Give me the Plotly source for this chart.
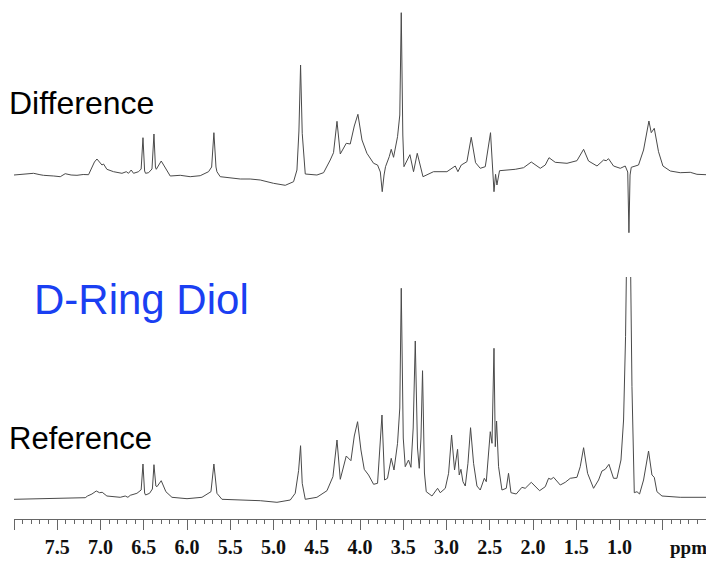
import plotly.graph_objects as go

# ---- data: (chemical shift in ppm, intensity in arbitrary units) ----
DIFFERENCE = [
    (8.000, 0), (7.900, 0.7), (7.774, 1.7), (7.700, 0.3), (7.660, -0.3), (7.540, -1.0),
    (7.465, -1.7), (7.408, 1.3), (7.340, 0), (7.272, -0.3), (7.200, 0.5), (7.138, 0.3),
    (7.099, 6.7), (7.070, 13), (7.041, 16), (7.014, 13.3), (6.983, 10), (6.965, 11),
    (6.926, 5.7), (6.849, 3.3), (6.752, 1.7), (6.702, 3.3), (6.676, 1.7), (6.645, 5),
    (6.618, 1.7), (6.560, 3.3), (6.530, 6), (6.509, 37.3), (6.490, 4), (6.479, 1.7),
    (6.444, 2.3), (6.405, 6), (6.382, 41), (6.365, 8), (6.355, 5.7), (6.298, 14),
    (6.251, 6.7), (6.194, -1), (6.078, -0.3), (5.963, -1.7), (5.847, -0.7), (5.751, 3.3),
    (5.715, 8), (5.689, 42.3), (5.665, 8), (5.654, 3.3), (5.616, -1.7), (5.500, -2.5),
    (5.384, -4), (5.270, -4), (5.153, -5), (5.000, -8.3), (4.864, -10.3), (4.768, -6.7),
    (4.729, 5), (4.706, 44), (4.687, 110), (4.668, 41.7), (4.633, 1), (4.498, 0),
    (4.421, 2.3), (4.344, 15), (4.306, 22.3), (4.266, 53.7), (4.228, 21), (4.159, 31.7),
    (4.113, 31), (4.066, 49), (4.024, 60.7), (3.977, 35), (3.920, 21.7), (3.843, 11.7),
    (3.797, 10), (3.765, 3), (3.743, -16.7), (3.722, 0), (3.705, 8.3), (3.662, 18.3),
    (3.639, 25.7), (3.612, 17.7), (3.566, 38.3), (3.540, 60), (3.523, 162.3), (3.505, 40),
    (3.492, 8.3), (3.423, 20.3), (3.381, 3.3), (3.338, 21.7), (3.272, -1.7), (3.150, 3.3),
    (2.995, 3.3), (2.899, 9), (2.868, 3.3), (2.829, 10), (2.764, 13.3), (2.714, 37.7),
    (2.664, 12.3), (2.610, 6.7), (2.552, 8.3), (2.491, 42.3), (2.451, -16.7), (2.433, 0.7),
    (2.417, -10), (2.387, 4.3), (2.301, 5), (2.205, 5.7), (2.109, 7.3), (2.020, 13),
    (1.916, 6.7), (1.858, 10), (1.815, 17.3), (1.743, 12.7), (1.607, 11.7), (1.492, 14.3),
    (1.415, 25.7), (1.358, 14), (1.260, 9), (1.184, 15), (1.153, 14.3), (1.127, 16.3),
    (1.069, 9), (0.991, 6.7), (0.934, 9), (0.905, 3), (0.891, -57.7), (0.878, 0),
    (0.864, 7.7), (0.780, 10), (0.722, 25), (0.660, 54), (0.633, 42.3), (0.598, 46.7),
    (0.549, 23.3), (0.498, 9), (0.413, 4), (0.298, 2.3), (0.182, 2.7), (0.105, 0.7),
    (0.000, 0.3),
]

REFERENCE = [
    (8.000, -1.3), (7.800, -1.0), (7.581, -0.7), (7.400, 0), (7.176, 0.3), (7.150, 2),
    (7.099, 4), (7.049, 7), (7.011, 5.3), (6.980, 5.7), (6.926, 2), (6.772, 0.7),
    (6.714, 2), (6.683, 0.7), (6.656, 2.7), (6.579, 4.7), (6.530, 8), (6.509, 34),
    (6.490, 5), (6.479, 3), (6.433, 4.7), (6.400, 9), (6.382, 33.3), (6.360, 12),
    (6.347, 11.3), (6.298, 17.3), (6.244, 6.3), (6.174, 0.7), (6.000, -0.7), (5.827, 0.7),
    (5.751, 4.7), (5.723, 6.3), (5.689, 34), (5.654, 4.7), (5.596, -1.3), (5.384, -2),
    (5.153, -2.7), (4.960, -4.3), (4.806, -2), (4.749, 4.7), (4.710, 27.3), (4.687, 52.3),
    (4.668, 14.7), (4.633, -1.3), (4.498, 0.7), (4.382, 7.3), (4.313, 21.3), (4.266, 58),
    (4.228, 18.7), (4.159, 42), (4.105, 37.3), (4.066, 62), (4.028, 76.3), (3.989, 48),
    (3.951, 28.7), (3.901, 23), (3.843, 13.7), (3.797, 14.7), (3.774, 41.3), (3.746, 83),
    (3.716, 18), (3.682, 19.7), (3.639, 39.7), (3.607, 28), (3.566, 54.7), (3.540, 90),
    (3.523, 209.7), (3.500, 60), (3.477, 31.3), (3.439, 38), (3.411, 30.7), (3.385, 70),
    (3.361, 157), (3.335, 50), (3.315, 29.7), (3.295, 60), (3.277, 127.3), (3.255, 25),
    (3.234, 6.3), (3.168, 2), (3.103, 9.7), (3.072, 5.3), (3.014, 9.7), (2.976, 24.7),
    (2.941, 63), (2.907, 28), (2.872, 48.7), (2.853, 23), (2.833, 28.7), (2.810, 16.3),
    (2.783, 12), (2.752, 34.7), (2.722, 70.3), (2.687, 34.7), (2.648, 12), (2.610, 8),
    (2.563, 19.7), (2.540, 16.3), (2.494, 66.3), (2.474, 54.7), (2.451, 149.7), (2.436, 51.3),
    (2.421, 77), (2.398, 31.3), (2.359, 8), (2.309, 9.7), (2.283, 24.7), (2.255, 5.3),
    (2.194, 4), (2.128, 10.7), (2.090, 9.7), (2.020, 15.7), (1.924, 7.3), (1.858, 11.3),
    (1.820, 19.7), (1.792, 18.7), (1.762, 20.7), (1.685, 13), (1.627, 15.7), (1.569, 19.7),
    (1.492, 20.7), (1.454, 31.3), (1.415, 50.3), (1.369, 24.7), (1.300, 9.7), (1.242, 18),
    (1.203, 27), (1.165, 28.7), (1.122, 33.7), (1.069, 19.7), (1.030, 19.7), (0.983, 38),
    (0.953, 78), (0.930, 161.3), (0.918, 240), (0.895, 330), (0.873, 240), (0.856, 111.3),
    (0.829, 5.3), (0.798, 6.3), (0.768, 4), (0.722, 18), (0.664, 47), (0.625, 23),
    (0.598, 20.7), (0.567, 6.3), (0.509, 2), (0.298, 0.7), (0.000, 0.7),
]

MAJOR_TICKS = [8.0, 7.5, 7.0, 6.5, 6.0, 5.5, 5.0, 4.5, 4.0, 3.5, 3.0, 2.5, 2.0, 1.5, 1.0, 0.5, 0.0]
TICK_LABELS = ["", "7.5", "7.0", "6.5", "6.0", "5.5", "5.0", "4.5", "4.0", "3.5", "3.0",
               "2.5", "2.0", "1.5", "1.0", "", ""]
LABELS = {"top": "Difference", "title": "D-Ring Diol", "bottom": "Reference", "unit": "ppm"}

LINE = "#4a4a4a"
AXIS = "#666666"

diff_x, diff_y = zip(*DIFFERENCE)
ref_x, ref_y = zip(*REFERENCE)

fig = go.Figure()
fig.add_trace(go.Scatter(x=ref_x, y=ref_y, mode="lines", xaxis="x", yaxis="y",
                         line=dict(color=LINE, width=1), hoverinfo="skip", showlegend=False))
fig.add_trace(go.Scatter(x=diff_x, y=diff_y, mode="lines", xaxis="x", yaxis="y2",
                         line=dict(color=LINE, width=1), hoverinfo="skip", showlegend=False))

# the page body adds an 8px margin, so the figure is sized to fit inside the window
fig.update_layout(
    width=706, height=553,
    margin=dict(l=6, r=8, t=0, b=42),
    paper_bgcolor="white", plot_bgcolor="white",
    showlegend=False,
    xaxis=dict(
        range=[8.0, 0.0], anchor="y", showgrid=False, zeroline=False, automargin=False,
        showline=True, linecolor=AXIS, linewidth=1,
        tickmode="array", tickvals=MAJOR_TICKS, ticktext=TICK_LABELS,
        ticks="outside", ticklen=10, tickwidth=1, tickcolor=AXIS,
        tickfont=dict(family="Liberation Serif, Times New Roman, serif", size=20,
                      color="#111111", weight="bold"),
        minor=dict(tickmode="linear", tick0=0, dtick=0.1, ticks="outside", ticklen=4,
                   tickwidth=1, tickcolor=AXIS, showgrid=False),
    ),
    yaxis=dict(domain=[0, 0.4736], range=[-21, 221], visible=False, fixedrange=True,
               automargin=False),
    yaxis2=dict(domain=[0.5362, 1.0], range=[-70, 167], visible=False, anchor="x",
                fixedrange=True, automargin=False),
)

sans = "Liberation Sans, Arial, sans-serif"
fig.add_annotation(text=LABELS["top"], xref="paper", yref="paper", x=-0.0094, y=0.815,
                   xanchor="left", yanchor="middle", showarrow=False,
                   font=dict(family=sans, size=32, color="black"))
fig.add_annotation(text=LABELS["title"], xref="paper", yref="paper", x=0.026, y=0.4286,
                   xanchor="left", yanchor="middle", showarrow=False,
                   font=dict(family=sans, size=42, color="#1a3ff2"))
fig.add_annotation(text=LABELS["bottom"], xref="paper", yref="paper", x=-0.0094, y=0.1585,
                   xanchor="left", yanchor="middle", showarrow=False,
                   font=dict(family=sans, size=31, color="black"))
fig.add_annotation(text=LABELS["unit"], xref="paper", yref="paper", x=0.975, y=-0.056,
                   xanchor="center", yanchor="middle", showarrow=False,
                   font=dict(family="Liberation Serif, Times New Roman, serif", size=19,
                             color="#111111", weight="bold"))

fig.write_html("out.html")
